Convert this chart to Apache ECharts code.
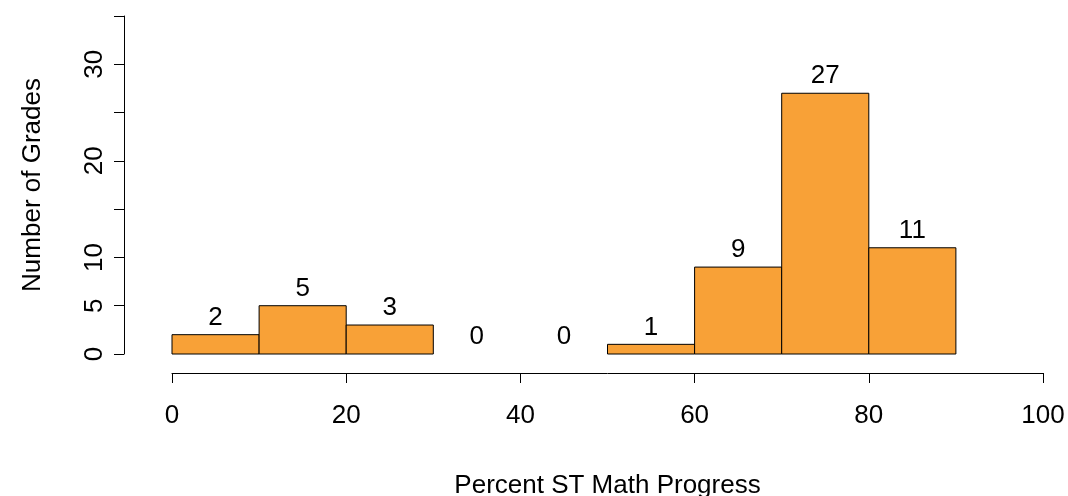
<!DOCTYPE html>
<html><head><meta charset="utf-8">
<script src="https://cdn.jsdelivr.net/npm/echarts@6/dist/echarts.min.js"></script>
<style>html,body{margin:0;padding:0;background:#fff}#c{width:1068px;height:496px}</style>
</head><body><div id="c"></div>
<script>
const binStarts = [0,10,20,30,40,50,60,70,80];
const binWidth = 10;
const counts = [2,5,3,0,0,1,9,27,11];
const xTicks = [0,20,40,60,80,100];
const yShownLabels = [0,5,10,20,30];

const data = binStarts.map((s,i)=>[s, s+binWidth, counts[i]]);
const font = 'Liberation Sans, Arial, sans-serif';
const fs = 26;
const chart = echarts.init(document.getElementById('c'));
chart.setOption({
  animation:false,
  grid:{left:172,right:25,top:16,bottom:142,containLabel:false,outerBoundsMode:'none'},
  xAxis:{type:'value',min:0,max:100,interval:20,offset:19,
    name:'Percent ST Math Progress',nameLocation:'middle',nameGap:113,
    nameTextStyle:{fontFamily:font,fontSize:fs,color:'#000',verticalAlign:'middle'},
    axisLine:{show:true,onZero:false,lineStyle:{color:'#000',width:1}},
    axisTick:{show:true,length:10,lineStyle:{color:'#000'}},
    axisLabel:{fontFamily:font,fontSize:fs,color:'#000',margin:30},
    splitLine:{show:false}},
  yAxis:{type:'value',min:0,max:35,interval:5,offset:48,
    name:'Number of Grades',nameLocation:'middle',nameGap:78,nameRotate:90,
    nameTextStyle:{fontFamily:font,fontSize:fs,color:'#000'},
    axisLine:{show:true,onZero:false,lineStyle:{color:'#000',width:1}},
    axisTick:{show:true,length:10,lineStyle:{color:'#000'}},
    axisLabel:{fontFamily:font,fontSize:fs,color:'#000',rotate:90,margin:16,
      formatter:v=>yShownLabels.includes(v)?String(v):''},
    splitLine:{show:false}},
  series:[{type:'custom',data:data,
    encode:{x:[0,1],y:2},
    renderItem:function(params,api){
      const p0=api.coord([api.value(0),api.value(2)]);
      const p1=api.coord([api.value(1),0]);
      const children=[];
      if(api.value(2)>0){
        children.push({type:'rect',shape:{x:p0[0],y:p0[1],width:p1[0]-p0[0],height:p1[1]-p0[1]},
          style:{fill:'#F8A137',stroke:'#000',lineWidth:1}});
      }
      children.push({type:'text',style:{text:String(api.value(2)),x:(p0[0]+p1[0])/2,y:p0[1]-4,
        textAlign:'center',textVerticalAlign:'bottom',fontFamily:font,fontSize:fs,fill:'#000'}});
      return {type:'group',children:children};
    }}]
});
</script></body></html>
